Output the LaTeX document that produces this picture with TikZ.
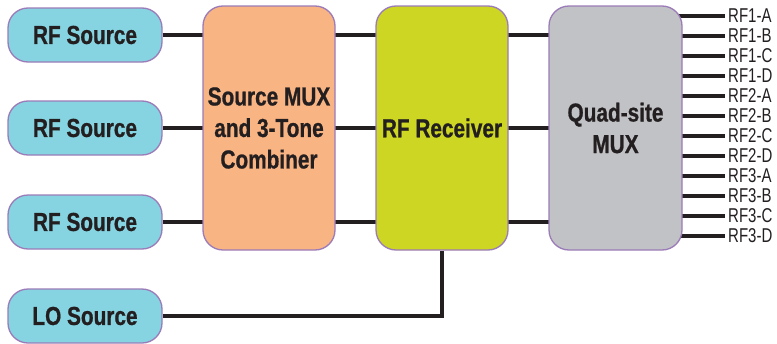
\documentclass[tikz,border=0pt]{standalone}
\usepackage{fontspec}
\setmainfont{Liberation Sans}
\newfontfamily\boldcond[FakeStretch=0.8,FakeBold=0.8]{Liberation Sans Bold}
\newfontfamily\regcond[FakeStretch=0.75]{Liberation Sans}
\usetikzlibrary{backgrounds}
\definecolor{srcfill}{HTML}{86D4E2}
\definecolor{edgepurple}{HTML}{9B7BB8}
\definecolor{muxfill}{HTML}{F9B483}
\definecolor{rxfill}{HTML}{CDD622}
\definecolor{quadfill}{HTML}{C1C2C6}
\definecolor{ink}{HTML}{231F20}
\tikzset{
  box/.style={draw=edgepurple, line width=1.3pt, rounded corners=20pt, inner sep=0pt,
    text=ink, font=\boldcond\fontsize{26}{31.5}\selectfont, align=center},
  srcbox/.style={box, fill=srcfill, minimum width=154pt, minimum height=54pt},
  bigbox/.style={box, minimum width=132pt, minimum height=244pt},
  wire/.style={draw=ink, line width=3.3pt},
  outlabel/.style={anchor=west, inner sep=0pt, text=ink, font=\regcond\fontsize{20}{20}\selectfont}
}
\begin{document}
\begin{tikzpicture}[x=1pt, y=-1pt]
\useasboundingbox (0,0) rectangle (777,343);
\node[srcbox] (src1) at (85,35) {RF Source};
\node[srcbox] (src2) at (85,128) {RF Source};
\node[srcbox] (src3) at (85,222) {RF Source};
\node[srcbox] (lo) at (85,316) {LO Source};
\node[bigbox, fill=muxfill] (mux) at (269,128) {Source MUX\\and 3-Tone\\Combiner};
\node[bigbox, fill=rxfill] (rx) at (442,128) {RF Receiver};
\node[bigbox, fill=quadfill, minimum width=133pt] (quad) at (615.5,128) {Quad-site\\MUX};
\foreach \i/\t in {0/RF1-A,1/RF1-B,2/RF1-C,3/RF1-D,4/RF2-A,5/RF2-B,6/RF2-C,7/RF2-D,8/RF3-A,9/RF3-B,10/RF3-C,11/RF3-D}{
  \coordinate (o\i) at (725,{16+20*\i});
  \node[outlabel] (l\i) at ([xshift=3pt]o\i) {\t};
}
\begin{scope}[on background layer]
\foreach \s in {src1,src2,src3}{
  \draw[wire] (\s.east) -- (\s.east -| rx.east);
  \draw[wire] (\s.east -| rx.east) -- (\s.east -| quad.center);
}
\draw[wire] (lo.east) -| (rx.south);
\foreach \i in {0,...,11}{
  \draw[wire] (o\i -| quad.center) -- (o\i);
}
\end{scope}
\end{tikzpicture}
\end{document}
